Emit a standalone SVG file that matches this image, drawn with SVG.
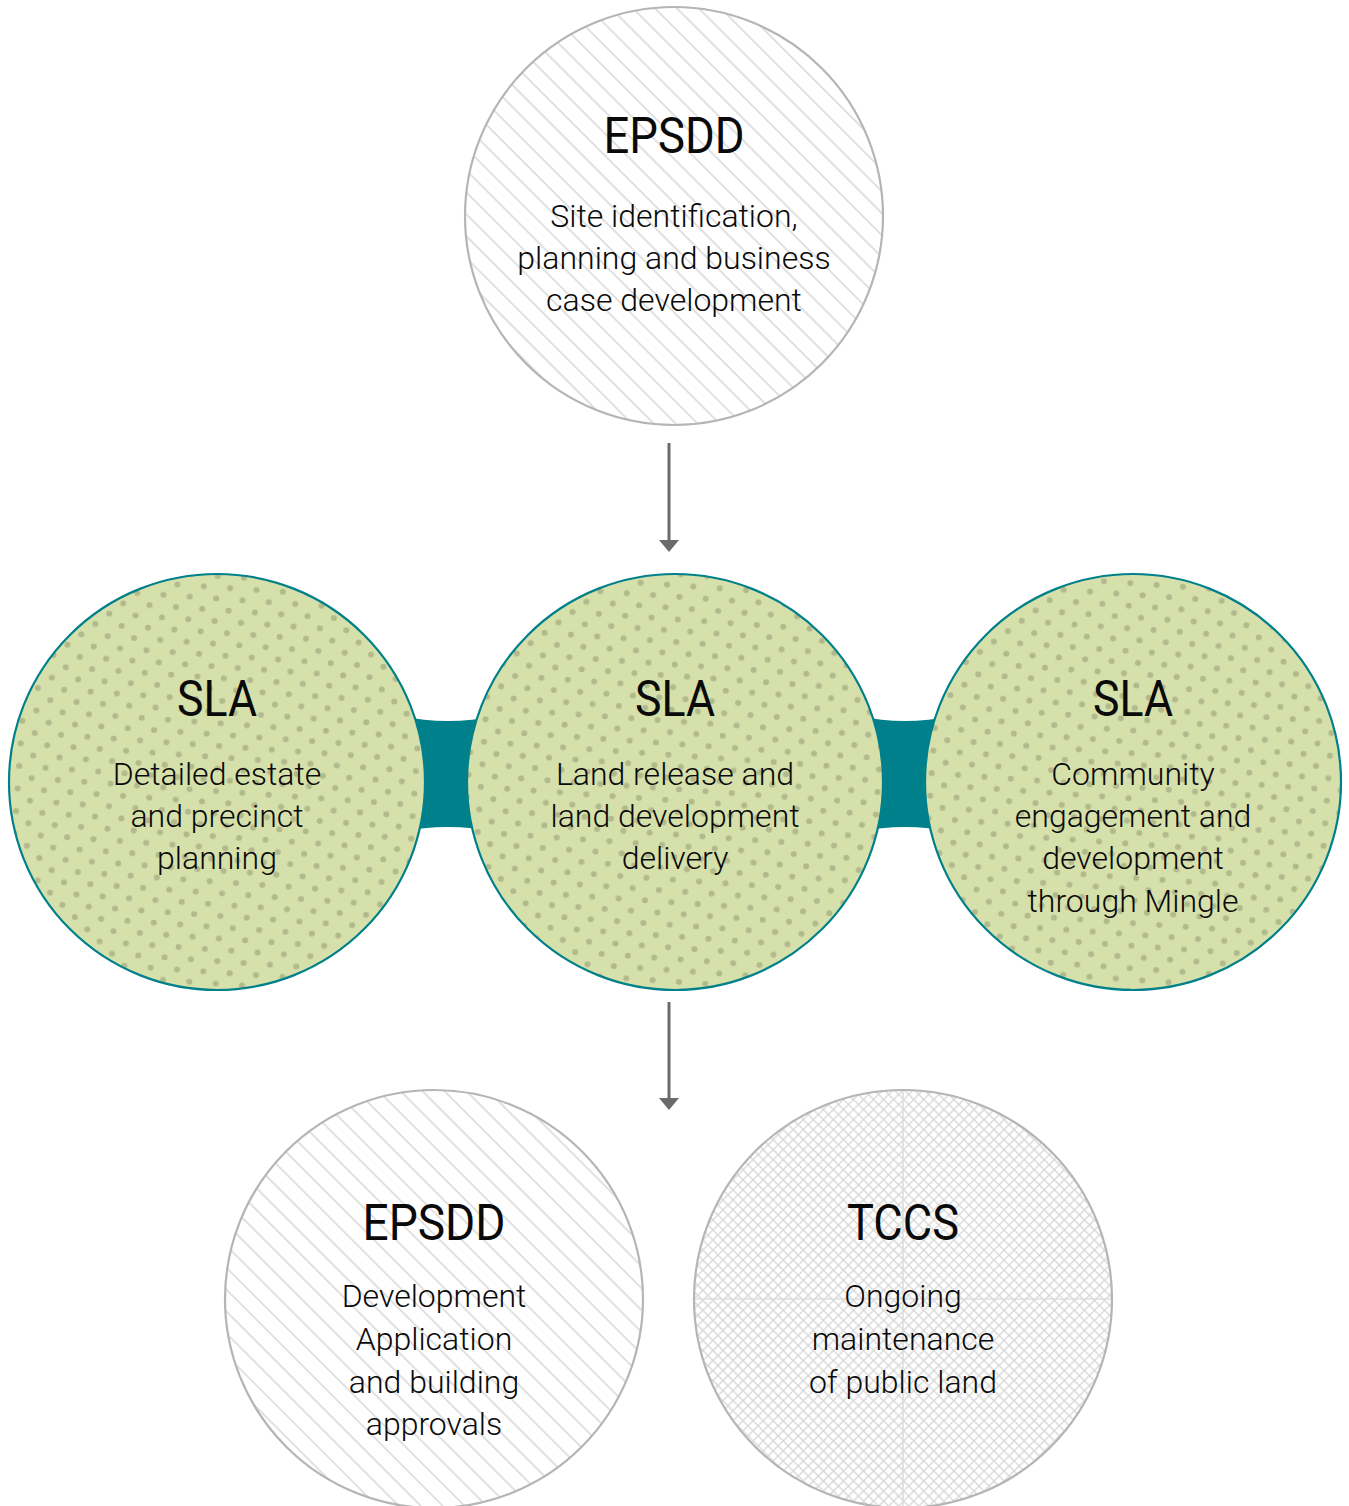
<svg xmlns="http://www.w3.org/2000/svg" width="1349" height="1506" viewBox="0 0 1349 1506">
  <style>
    .title { font-family: Roboto, "Liberation Sans", sans-serif; font-weight: 400; font-size: 50px; fill: #0a0a0a; text-anchor: middle; }
    .body { font-family: Roboto, "Liberation Sans", sans-serif; font-weight: 300; font-size: 32px; fill: #0a0a0a; text-anchor: middle; }
    .gray { stroke: #b5b5b5; stroke-width: 2.2; }
    .teal { stroke: #00808a; stroke-width: 2.2; }
    .bridge { fill: #00808a; }
    .arrow-line { stroke: #6b6b6b; stroke-width: 3; fill: none; }
    .arrow-head { fill: #6b6b6b; }
  </style>
  <defs>
    <pattern id="hatch" width="15.5" height="15.5" patternUnits="userSpaceOnUse" patternTransform="rotate(-45)">
      <rect width="15.5" height="15.5" fill="#ffffff"/>
      <line x1="7.75" y1="0" x2="7.75" y2="15.5" stroke="#d4d4d4" stroke-width="1.4"/>
    </pattern>
    <pattern id="cross" width="7.1" height="7.1" patternUnits="userSpaceOnUse" patternTransform="rotate(45)">
      <rect width="7.1" height="7.1" fill="#ffffff"/>
      <line x1="3.55" y1="0" x2="3.55" y2="7.1" stroke="#d6d6d6" stroke-width="1.3"/>
      <line x1="0" y1="3.55" x2="7.1" y2="3.55" stroke="#d6d6d6" stroke-width="1.3"/>
    </pattern>
    <pattern id="dots" width="26.4" height="22.6" patternUnits="userSpaceOnUse" patternTransform="rotate(4)">
      <rect width="26.4" height="22.6" fill="#d6e0aa"/>
      <circle cx="6.6" cy="5.65" r="3" fill="#b2b98d"/>
      <circle cx="19.8" cy="16.95" r="3" fill="#b2b98d"/>
    </pattern>
    <clipPath id="clipTccs">
      <circle cx="903" cy="1299" r="208"/>
    </clipPath>
  </defs>

  <g id="connectors">
    <path class="bridge" d="M400,716 Q448,726 496,716 L496,832 Q448,822 400,832 Z"/>
    <path class="bridge" d="M858,716 Q905,726 952,716 L952,832 Q905,822 858,832 Z"/>
    <line class="arrow-line" x1="669" y1="443" x2="669" y2="542"/>
    <polygon class="arrow-head" points="659,540 679,540 669,552"/>
    <line class="arrow-line" x1="669" y1="1002" x2="669" y2="1100"/>
    <polygon class="arrow-head" points="659,1098 679,1098 669,1110"/>
  </g>

  <g id="node-epsdd-top">
    <circle cx="674" cy="216" r="209" fill="url(#hatch)" class="gray"/>
    <text class="title" x="674" y="153" textLength="141" lengthAdjust="spacingAndGlyphs">EPSDD</text>
    <text class="body" x="674" y="227">Site identification,</text>
    <text class="body" x="674" y="269">planning and business</text>
    <text class="body" x="674" y="311">case development</text>
  </g>

  <g id="node-sla-left">
    <circle cx="217" cy="782" r="208" fill="url(#dots)" class="teal"/>
    <text class="title" x="217" y="716" textLength="80" lengthAdjust="spacingAndGlyphs">SLA</text>
    <text class="body" x="217" y="785">Detailed estate</text>
    <text class="body" x="217" y="827">and precinct</text>
    <text class="body" x="217" y="869">planning</text>
  </g>

  <g id="node-sla-middle">
    <circle cx="675" cy="782" r="208" fill="url(#dots)" class="teal"/>
    <text class="title" x="675" y="716" textLength="80" lengthAdjust="spacingAndGlyphs">SLA</text>
    <text class="body" x="675" y="785">Land release and</text>
    <text class="body" x="675" y="827">land development</text>
    <text class="body" x="675" y="869">delivery</text>
  </g>

  <g id="node-sla-right">
    <circle cx="1133" cy="782" r="208" fill="url(#dots)" class="teal"/>
    <text class="title" x="1133" y="716" textLength="80" lengthAdjust="spacingAndGlyphs">SLA</text>
    <text class="body" x="1133" y="785">Community</text>
    <text class="body" x="1133" y="827">engagement and</text>
    <text class="body" x="1133" y="869">development</text>
    <text class="body" x="1133" y="912">through Mingle</text>
  </g>

  <g id="node-epsdd-bottom">
    <circle cx="434" cy="1299" r="209" fill="url(#hatch)" class="gray"/>
    <text class="title" x="434" y="1240" textLength="143" lengthAdjust="spacingAndGlyphs">EPSDD</text>
    <text class="body" x="434" y="1307">Development</text>
    <text class="body" x="434" y="1350">Application</text>
    <text class="body" x="434" y="1393">and building</text>
    <text class="body" x="434" y="1435">approvals</text>
  </g>

  <g id="node-tccs">
    <circle cx="903" cy="1299" r="209" fill="url(#cross)"/>
    <g clip-path="url(#clipTccs)" stroke="#dcdcdc" stroke-width="1.6">
      <line x1="903" y1="1090" x2="903" y2="1508"/>
      <line x1="694" y1="1299" x2="1112" y2="1299"/>
    </g>
    <circle cx="903" cy="1299" r="209" fill="none" class="gray"/>
    <text class="title" x="903" y="1240" textLength="112" lengthAdjust="spacingAndGlyphs">TCCS</text>
    <text class="body" x="903" y="1307">Ongoing</text>
    <text class="body" x="903" y="1350">maintenance</text>
    <text class="body" x="903" y="1393">of public land</text>
  </g>
</svg>
